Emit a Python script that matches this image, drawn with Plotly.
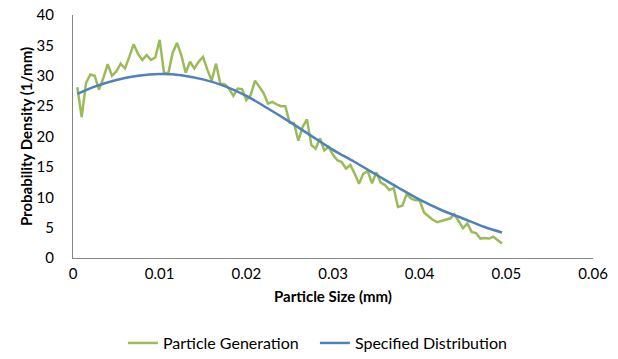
import plotly.graph_objects as go

# Particle Generation (green) - 99 bins, 0.0005 mm spacing
gen_x = [0.0005, 0.0010, 0.0015, 0.0020, 0.0025, 0.0030, 0.0035, 0.0040, 0.0045, 0.0050,
         0.0055, 0.0060, 0.0065, 0.0070, 0.0075, 0.0080, 0.0085, 0.0090, 0.0095, 0.0100,
         0.0105, 0.0110, 0.0115, 0.0120, 0.0125, 0.0130, 0.0135, 0.0140, 0.0145, 0.0150,
         0.0155, 0.0160, 0.0165, 0.0170, 0.0175, 0.0180, 0.0185, 0.0190, 0.0195, 0.0200,
         0.0205, 0.0210, 0.0215, 0.0220, 0.0225, 0.0230, 0.0235, 0.0240, 0.0245, 0.0250,
         0.0255, 0.0260, 0.0265, 0.0270, 0.0275, 0.0280, 0.0285, 0.0290, 0.0295, 0.0300,
         0.0305, 0.0310, 0.0315, 0.0320, 0.0325, 0.0330, 0.0335, 0.0340, 0.0345, 0.0350,
         0.0355, 0.0360, 0.0365, 0.0370, 0.0375, 0.0380, 0.0385, 0.0390, 0.0395, 0.0400,
         0.0405, 0.0410, 0.0415, 0.0420, 0.0425, 0.0430, 0.0435, 0.0440, 0.0445, 0.0450,
         0.0455, 0.0460, 0.0465, 0.0470, 0.0475, 0.0480, 0.0485, 0.0490, 0.0495]
gen_y = [28.1, 23.2, 28.8, 30.2, 30.0, 27.7, 29.6, 31.9, 30.0, 30.7,
         32.0, 31.2, 33.1, 35.2, 33.6, 32.6, 33.4, 32.6, 33.0, 35.9,
         30.5, 30.4, 33.8, 35.4, 33.4, 30.5, 32.3, 31.2, 32.3, 33.1,
         31.0, 29.2, 32.0, 28.7, 28.6, 27.9, 26.7, 27.9, 27.8, 26.0,
         26.8, 29.2, 28.2, 27.1, 25.4, 25.7, 25.3, 25.0, 25.0, 22.3,
         22.2, 19.3, 21.6, 22.8, 18.6, 18.0, 19.7, 17.7, 18.3, 17.0,
         16.1, 15.8, 14.7, 15.3, 13.9, 12.2, 13.9, 14.3, 12.3, 14.1,
         12.4, 12.0, 11.2, 11.5, 8.4, 8.6, 10.5, 9.8, 9.5, 9.5,
         7.5, 6.9, 6.3, 5.9, 6.1, 6.4, 6.5, 7.2, 6.1, 4.9,
         5.7, 4.3, 4.1, 3.2, 3.3, 3.2, 3.5, 3.0, 2.4]

# Specified Distribution (blue)
dist_x = [0.0005, 0.0025, 0.0050, 0.0075, 0.0100, 0.0125, 0.0150, 0.0175, 0.0200, 0.0225,
          0.0250, 0.0275, 0.0300, 0.0325, 0.0350, 0.0375, 0.0400, 0.0425, 0.0450, 0.0475, 0.0495]
dist_y = [27.0, 28.2, 29.3, 30.0, 30.3, 30.1, 29.4, 28.3, 26.7, 24.6,
          22.4, 20.1, 17.8, 15.8, 13.7, 11.6, 9.6, 7.9, 6.5, 5.1, 4.2]

x_ticks = [0, 0.01, 0.02, 0.03, 0.04, 0.05, 0.06]
x_tick_labels = ["0", "0.01", "0.02", "0.03", "0.04", "0.05", "0.06"]
y_ticks = [0, 5, 10, 15, 20, 25, 30, 35, 40]

FONT = "Lato"

fig = go.Figure()
fig.add_trace(go.Scatter(x=gen_x, y=gen_y, mode="lines", name="Particle Generation",
                         line=dict(color="#9BBB59", width=2.5)))
fig.add_trace(go.Scatter(x=dist_x, y=dist_y, mode="lines", name="Specified Distribution",
                         line=dict(color="#4F81BD", width=2.5, shape="spline")))

fig.update_layout(
    width=618, height=359,
    margin=dict(l=73, r=25, t=15, b=101, autoexpand=False),
    paper_bgcolor="white", plot_bgcolor="white",
    font=dict(family=FONT, size=14, color="#000000"),
    showlegend=True,
    legend=dict(orientation="h", x=0.096, xanchor="left", y=-0.35, yanchor="middle",
                font=dict(family=FONT, size=16, color="#000000"), itemwidth=30,
                entrywidth=147, entrywidthmode="pixels", traceorder="normal"),
    xaxis=dict(range=[0, 0.06], tickvals=x_ticks, ticktext=x_tick_labels, automargin=False,
               showgrid=False, zeroline=False, showline=True, linecolor="#868686", linewidth=1,
               ticks="", tickfont=dict(family=FONT, size=15, color="#000000"), ticklabelstandoff=2,
               title=dict(text="<b>Particle Size (mm)</b>", font=dict(family=FONT, size=15), standoff=10)),
    yaxis=dict(range=[0, 40], tickvals=y_ticks, automargin=False,
               showgrid=False, zeroline=False, showline=True, linecolor="#868686", linewidth=1,
               ticks="", tickfont=dict(family=FONT, size=15, color="#000000"), ticklabelstandoff=15,
               title=dict(text="<b>Probability Density (1/mm)</b>", font=dict(family=FONT, size=15), standoff=0)),
)

# remove the default 8px page margin so the figure fills the window exactly
fig.write_html("out.html", config={"displayModeBar": False},
               post_script="document.body.style.margin='0';")
